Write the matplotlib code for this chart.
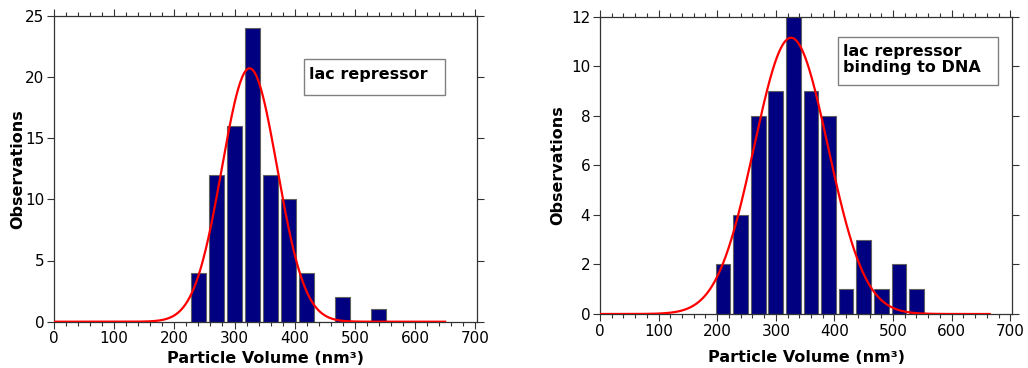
import numpy as np
import matplotlib.pyplot as plt
from matplotlib.ticker import MultipleLocator
from matplotlib.patches import Rectangle

# Left panel: lac repressor
left_centers = [240, 270, 300, 330, 360, 390, 420, 450, 480, 510, 540]
left_counts = [4, 12, 16, 24, 12, 10, 4, 0, 2, 0, 1]
left_fit = {'mean': 325, 'sigma': 46, 'peak': 20.7, 'xmax': 650}

# Right panel: lac repressor binding to DNA
right_centers = [210, 240, 270, 300, 330, 360, 390, 420, 450, 480, 510, 540]
right_counts = [2, 4, 8, 9, 12, 9, 8, 1, 3, 1, 2, 1]
right_fit = {'mean': 326, 'sigma': 63, 'peak': 11.15, 'xmax': 665}

bar_color = '#000080'
fit_color = '#ff0000'

fig = plt.figure(figsize=(10.28, 3.68), dpi=100)
W, H = 1028, 368

ax1 = fig.add_axes([54 / W, 1 - 321.7 / H, (477 - 54) / W, (321.7 - 15.7) / H])
ax2 = fig.add_axes([600 / W, 1 - 314 / H, (1012 - 600) / W, (314 - 16.7) / H])

for ax, centers, counts, fit, ymax, ystep in [
        (ax1, left_centers, left_counts, left_fit, 25, 5),
        (ax2, right_centers, right_counts, right_fit, 12, 2)]:
    ax.bar(centers, counts, width=25, color=bar_color, edgecolor='#606060',
           linewidth=0.8, zorder=2)
    x = np.linspace(0, fit['xmax'], 400)
    y = fit['peak'] * np.exp(-(x - fit['mean']) ** 2 / (2 * fit['sigma'] ** 2))
    ax.plot(x, y, color=fit_color, lw=1.6, zorder=3)

    ax.set_xlim(0, 703)
    ax.set_ylim(0, ymax)
    ax.xaxis.set_major_locator(MultipleLocator(100))
    ax.xaxis.set_minor_locator(MultipleLocator(20))
    ax.yaxis.set_major_locator(MultipleLocator(ystep))
    ax.tick_params(which='both', direction='out', top=True, right=True,
                   labeltop=False, labelright=False, color='#333333')
    ax.tick_params(which='major', length=5, width=0.8, labelsize=11, pad=2)
    ax.tick_params(which='minor', length=3, width=0.8)
    for s in ax.spines.values():
        s.set_color('#333333')
        s.set_linewidth(0.9)

ax1.set_xlabel('Particle Volume (nm³)', fontsize=11.5, fontweight='bold', labelpad=3)
ax1.set_ylabel('Observations', fontsize=11.5, fontweight='bold', labelpad=0)
ax2.set_xlabel('Particle Volume (nm³)', fontsize=11.5, fontweight='bold', labelpad=8)
ax2.set_ylabel('Observations', fontsize=11.5, fontweight='bold', labelpad=4)

# Annotation boxes
ax1.add_patch(Rectangle((0.591, 0.741), 0.333, 0.118, transform=ax1.transAxes,
                        facecolor='white', edgecolor='#808080', lw=1, zorder=4))
ax1.text(0.603, 0.809, 'lac repressor', transform=ax1.transAxes, fontsize=11.5,
         fontweight='bold', va='center', ha='left', zorder=5)

ax2.add_patch(Rectangle((0.578, 0.770), 0.387, 0.161, transform=ax2.transAxes,
                        facecolor='white', edgecolor='#808080', lw=1, zorder=4))
ax2.text(0.591, 0.855, 'lac repressor\nbinding to DNA', transform=ax2.transAxes,
         fontsize=11.5, fontweight='bold', va='center', ha='left', linespacing=1.1,
         zorder=5)

fig.savefig('out.png', dpi=100)
